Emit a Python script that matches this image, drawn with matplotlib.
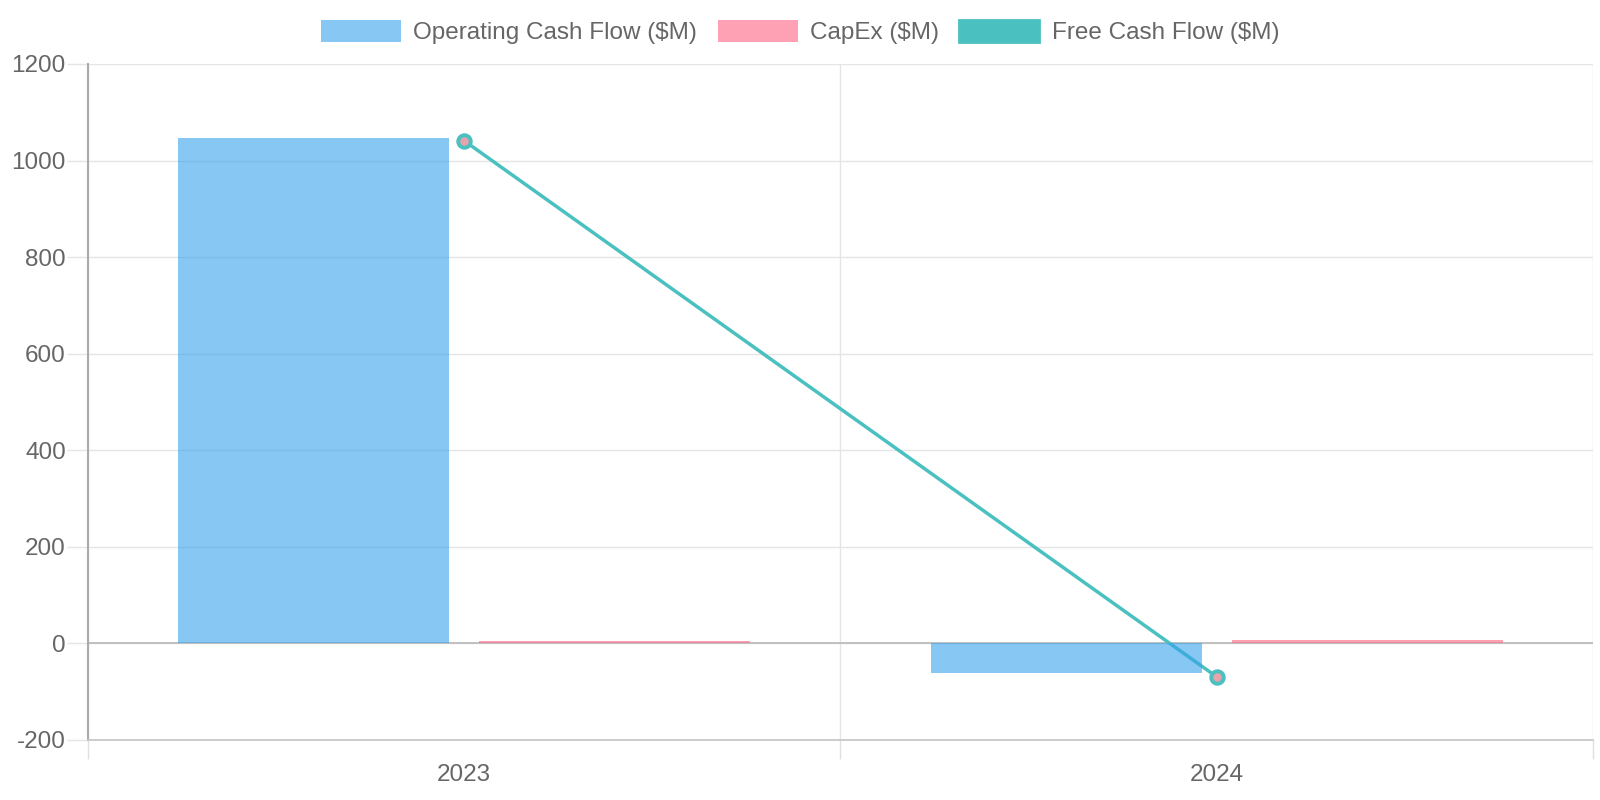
import matplotlib.pyplot as plt
from matplotlib.patches import Patch
import numpy as np

plt.rcParams['font.family'] = ['Liberation Sans', 'DejaVu Sans']
plt.rcParams['axes.unicode_minus'] = False

# Данные
years = ['2023', '2024']
operating_cf = [1046, -61]
capex = [5, 8]
free_cf = [1041, -69]

c_ocf = (54/255, 162/255, 235/255, 0.6)
c_capex = (255/255, 99/255, 132/255, 0.6)
c_fcf = '#4BC0C0'
txt = '#666666'
fs = 17.5

fig = plt.figure(figsize=(16, 8), dpi=100)
ax = fig.add_axes([0.055, 0.075, 0.9405, 0.845])

x = np.arange(len(years))
w = 0.36
ax.bar(x - 0.2, operating_cf, w, color=c_ocf, zorder=3)
ax.bar(x + 0.2, capex, w, color=c_capex, zorder=3)
ax.plot(x, free_cf, color=c_fcf, lw=2.5, zorder=2,
        marker='o', markersize=9, markerfacecolor='#E6A3AB',
        markeredgecolor=c_fcf, markeredgewidth=2.8)

ax.set_xlim(-0.5, 1.5)
ax.set_ylim(-200, 1200)

# Оси и сетка
ax.set_yticks(np.arange(-200, 1201, 200))
ax.tick_params(axis='y', length=15, color='#e5e5e5', width=1, pad=1,
               labelsize=fs, labelcolor=txt)
ax.set_xticks([-0.5, 0.5, 1.5])
ax.set_xticklabels([])
ax.tick_params(axis='x', which='major', length=14, color='#e0e0e0', width=1)
ax.set_xticks(x, minor=True)
ax.set_xticklabels(years, minor=True)
ax.tick_params(axis='x', which='minor', length=0, pad=17,
               labelsize=fs, labelcolor=txt)
ax.grid(True, which='major', color='#e5e5e5', lw=1, zorder=0)
ax.set_axisbelow(True)
ax.axhline(0, color='#bdbdbd', lw=1.3, zorder=1)

for s in ['top', 'right']:
    ax.spines[s].set_visible(False)
ax.spines['left'].set_color('#aaaaaa')
ax.spines['left'].set_linewidth(1.5)
ax.spines['bottom'].set_color('#c8c8c8')
ax.spines['bottom'].set_linewidth(1.3)

handles = [Patch(facecolor=c_ocf, edgecolor='none'),
           Patch(facecolor=c_capex, edgecolor='none'),
           Patch(facecolor=c_fcf, edgecolor=c_fcf, linewidth=2)]
labels = ['Operating Cash Flow ($M)', 'CapEx ($M)', 'Free Cash Flow ($M)']
fig.legend(handles, labels, loc='center', bbox_to_anchor=(0.5, 0.96),
           ncol=3, frameon=False, fontsize=fs, labelcolor=txt,
           handlelength=3.3, handleheight=1.03, handletextpad=0.5,
           columnspacing=0.84)

fig.savefig('out.png', dpi=100)
